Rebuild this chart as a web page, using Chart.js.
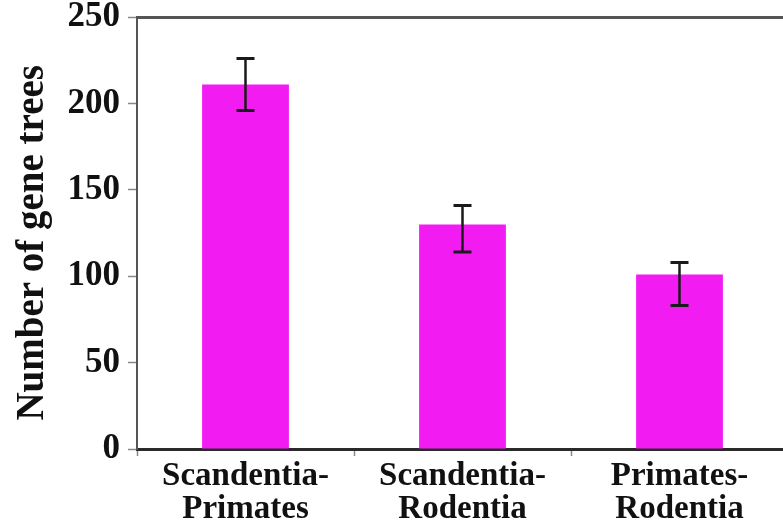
<!DOCTYPE html>
<html>
<head>
<meta charset="utf-8">
<script src="https://cdn.jsdelivr.net/npm/chart.js@4/dist/chart.umd.min.js"></script>
<style>
  html, body { margin: 0; padding: 0; background: #fff; overflow: hidden; }
  #wrap { width: 788px; height: 529px; }
</style>
</head>
<body>
<div id="wrap"><canvas id="c" width="788" height="529"></canvas></div>
<script>
// Gene-tree counts supporting each pairwise grouping, with error ranges
const categories = [
  ["Scandentia-", "Primates"],
  ["Scandentia-", "Rodentia"],
  ["Primates-", "Rodentia"]
];
const geneTreeCounts = [211, 130, 101];
const errorLow = [196, 114, 83];
const errorHigh = [226, 141, 108];
const yTicks = [0, 50, 100, 150, 200, 250];

const FONT = "'Liberation Serif', 'Times New Roman', serif";

// Draws vertical error bars with caps, positioned by the chart's own scales
const errorBars = {
  id: 'errorBars',
  afterDatasetsDraw(chart) {
    const meta = chart.getDatasetMeta(0);
    const y = chart.scales.y;
    const ctx = chart.ctx;
    ctx.save();
    ctx.strokeStyle = '#1a1a1a';
    meta.data.forEach((bar, i) => {
      const yHi = y.getPixelForValue(errorHigh[i]);
      const yLo = y.getPixelForValue(errorLow[i]);
      const cap = 9;
      ctx.lineWidth = 2.5;
      ctx.beginPath();
      ctx.moveTo(bar.x, yHi);
      ctx.lineTo(bar.x, yLo);
      ctx.stroke();
      ctx.lineWidth = 3;
      ctx.beginPath();
      ctx.moveTo(bar.x - cap, yHi);
      ctx.lineTo(bar.x + cap, yHi);
      ctx.moveTo(bar.x - cap, yLo);
      ctx.lineTo(bar.x + cap, yLo);
      ctx.stroke();
    });
    ctx.restore();
  }
};

new Chart(document.getElementById('c'), {
  type: 'bar',
  data: {
    labels: categories,
    datasets: [{
      data: geneTreeCounts,
      backgroundColor: '#f21cf2',
      borderWidth: 0,
      barPercentage: 0.4,
      categoryPercentage: 1.0
    }]
  },
  options: {
    responsive: false,
    animation: false,
    events: [],
    layout: { padding: { top: 0, right: 0, left: 0, bottom: 0 } },
    plugins: { legend: { display: false }, tooltip: { enabled: false } },
    scales: {
      x: {
        position: 'bottom',
        grid: {
          display: true,
          offset: true,
          drawOnChartArea: false,
          drawTicks: true,
          tickLength: 7,
          tickWidth: 1.5,
          tickColor: '#888'
        },
        border: { display: true, color: '#2a2a2a', width: 3 },
        ticks: {
          color: '#111',
          padding: 4,
          maxRotation: 0,
          autoSkip: false,
          font: { family: FONT, size: 33, weight: 'bold', lineHeight: 1.0 }
        },
        afterFit(scale) { scale.height = 80; }
      },
      xTop: {
        position: 'top',
        type: 'category',
        grid: { display: false, drawTicks: false },
        ticks: { display: false },
        border: { display: true, color: '#555', width: 3 },
        afterFit(scale) { scale.height = 0; }
      },
      y: {
        min: 0,
        max: 250,
        afterBuildTicks(scale) { scale.ticks = yTicks.map(v => ({ value: v })); },
        grid: {
          display: true,
          drawOnChartArea: false,
          drawTicks: true,
          tickLength: 9,
          tickWidth: 1.5,
          tickColor: '#888'
        },
        border: { display: true, color: '#555', width: 2 },
        ticks: {
          color: '#111',
          padding: 8,
          font: { family: FONT, size: 35, weight: 'bold', lineHeight: 0.52 }
        },
        title: {
          display: true,
          text: 'Number of gene trees  ',
          color: '#111',
          padding: { top: 13, bottom: 0 },
          font: { family: FONT, size: 39, weight: 'bold', lineHeight: 1 }
        },
        afterFit(scale) { scale.width = 137; }
      }
    }
  },
  plugins: [errorBars]
});
</script>
</body>
</html>
